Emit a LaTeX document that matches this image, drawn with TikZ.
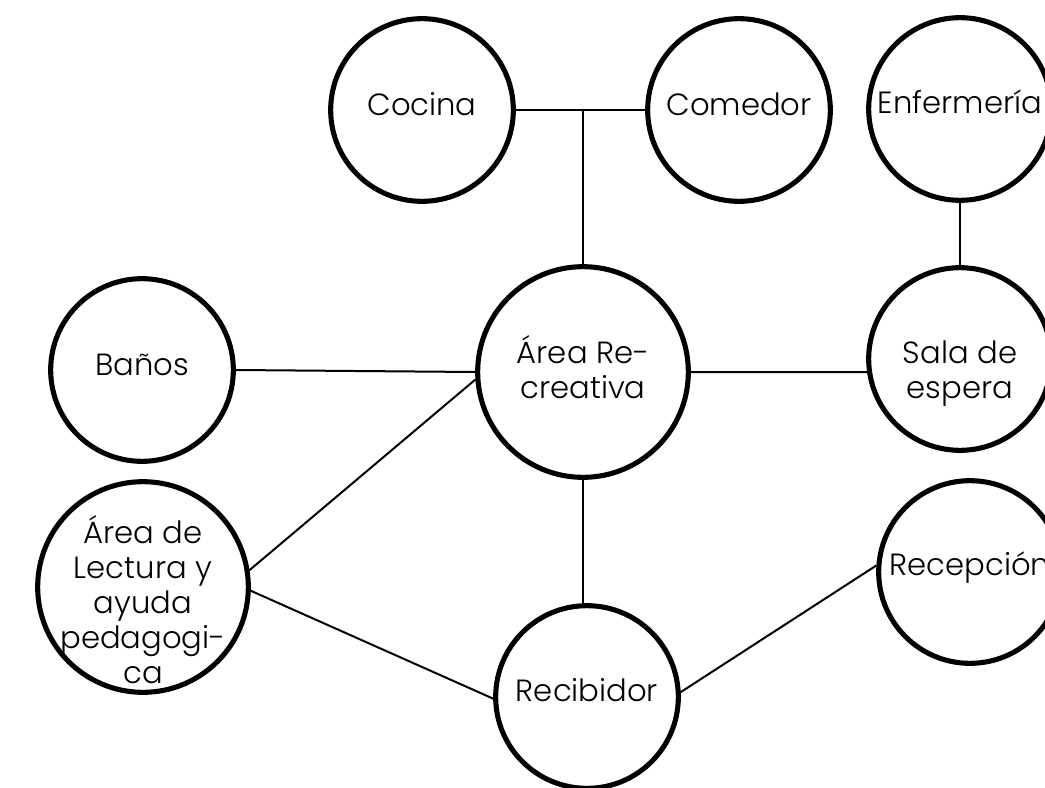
\documentclass[tikz,border=0pt]{standalone}
\usepackage{fontspec}
\setmainfont{Poppins Light}
\usetikzlibrary{positioning}

\begin{document}
\begin{tikzpicture}[x=0.75pt, y=-0.75pt,
        room/.style={circle, draw, line width=3.8pt, minimum size=137pt, inner sep=0pt},
        bigroom/.style={room, minimum size=158pt},
        roomtext/.style={align=center, inner sep=0pt, font=\fontsize{23}{26.25}\selectfont},
        link/.style={line width=1.5pt}]
        \useasboundingbox (0,0) rectangle (1045,788);

        \node[room] (cocina) at (422,110) {};
        \node[room] (comedor) at (739,110) {};
        \node[room] (enfermeria) at (960,109) {};
        \node[room] (banos) at (142,370) {};
        \node[bigroom] (area) at (583,372) {};
        \node[room] (sala) at (960,359) {};
        \node[bigroom] (lectura) at (143,587) {};
        \node[room] (recibidor) at (587,697) {};
        \node[room] (recepcion) at (970,572) {};

        \node[roomtext] (cocinaT) at (422,104) {Cocina};
        \node[roomtext] (comedorT) at (739,104) {Comedor};
        \node[roomtext] (enfermeriaT) at (960,102) {Enfermería};
        \node[roomtext] (banosT) at (142,365) {Baños};
        \node[roomtext] (areaT) at (583,367) {Área Re-\\creativa};
        \node[roomtext] (salaT) at (960,374) {Sala de\\espera};
        \node[roomtext] (lecturaT) at (143,600) {Área de\\Lectura y\\ayuda\\pedagogi-\\ca};
        \node[roomtext] (recibidorT) at (587,690) {Recibidor};
        \node[roomtext] (recepcionT) at (970,568) {Recepción};

        \draw[link] (cocina.east) -- (comedor.west);
        \draw[link] (area.north) -- (area.north |- cocina.east);
        \draw[link] (enfermeria.south) -- (sala.north);
        \draw[link] (banos.east) -- (area.west);
        \draw[link] (area.east) -- (sala.188);
        \draw[link] (lectura.9) -- (area.184);
        \draw[link] (lectura.-2) -- (recibidor.181);
        \draw[link] (area.south) -- (area.south |- recibidor.north);
        \draw[link] (recibidor.3) -- (recepcion.176);
\end{tikzpicture}
\end{document}
